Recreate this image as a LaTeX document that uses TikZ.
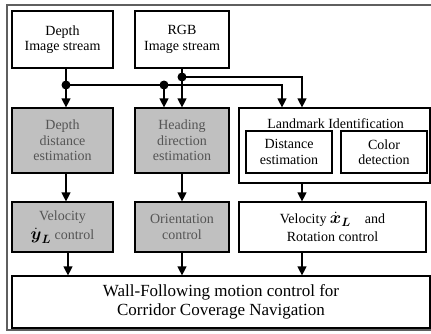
\documentclass[tikz,border=0pt]{standalone}
\usepackage{fontspec}
\setmainfont{Liberation Serif}
\usepackage{amsmath,amsbsy}
\usetikzlibrary{arrows.meta,positioning,calc}
\definecolor{estgray}{RGB}{192,192,192}
\definecolor{esttext}{RGB}{85,85,85}
\definecolor{framegray}{RGB}{95,95,95}
\newcommand{\bigvar}[1]{{\fontsize{18}{18}\selectfont$\dot{\boldsymbol{#1}}_{\boldsymbol{L}}$}}

\begin{document}
\begin{tikzpicture}[
x=1pt,y=-1pt,
>={Triangle[width=9pt,length=9pt]},
block/.style={
	draw,
	line width=1.2pt,
	fill=white,
	align=center,
	inner sep=0pt,
	font=\fontsize{14}{15.5}\selectfont
},
shaded/.style={
	block,
	fill=estgray,
	text=esttext
},
flow/.style={
	->,
	line width=1.2pt
},
junction/.style={
	fill=black,
	circle,
	inner sep=0pt,
	minimum size=9pt
}
]
\useasboundingbox (0,0) rectangle (431,333);
\draw[framegray,line width=1.2pt] (7,5) rectangle (440,330);

% sensor inputs
\node[block,minimum width=101pt,minimum height=57pt] (depth) at (62.5,39.5) {Depth\\Image stream};
\node[block,minimum width=94pt,minimum height=57pt] (rgb) at (182,39.5) {RGB\\Image stream};

% estimation
\node[shaded,minimum width=101pt,minimum height=65pt] (dde) at (62.5,140.5) {Depth\\distance\\estimation};
\node[shaded,minimum width=94pt,minimum height=65pt] (hde) at (182,140.5) {Heading\\direction\\estimation};
\node[block,minimum width=191pt,minimum height=75pt] (lmk) at (334.5,145.5) {};
\node[block,draw=none,fill=none] (lmktitle) at (335.5,124) {Landmark Identification};
\node[block,minimum width=86pt,minimum height=42pt] (dist) at (289,152) {Distance\\estimation};
\node[block,minimum width=86pt,minimum height=42pt] (color) at (384,152) {Color\\detection};

% control
\node[shaded,minimum width=101pt,minimum height=50pt] (vely) at (62.5,227) {Velocity\\[4pt]\textcolor{black}{\bigvar{y}} control};
\node[shaded,minimum width=94pt,minimum height=50pt] (orient) at (182,227) {Orientation\\control};
\node[block,minimum width=187pt,minimum height=50pt] (velx) at (332.5,227) {Velocity \bigvar{x}\quad and\\[2pt]Rotation control};
\node[block,minimum width=418pt,minimum height=52pt,font=\fontsize{17}{19}\selectfont] (wall) at (221,302) {Wall-Following motion control for\\Corridor Coverage Navigation};

% branching
\node[junction] (jd) at (66,85) {};
\node[junction] (jh) at (164,85) {};
\node[junction] (jr) at (182,77) {};
\coordinate (ld) at (282,85);
\coordinate (lr) at (302,77);

\draw[line width=1.2pt] (depth.south -| jd) -- (jd.center);
\draw[line width=1.2pt] (rgb.south) -- (jr.center);
\draw[flow] (jd.center) -- (dde.north -| jd);
\draw[flow] (jd.center) -- (ld) -- (lmk.north -| ld);
\draw[flow] (jh.center) -- (hde.north -| jh);
\draw[flow] (jr.center) -- (hde.north);
\draw[flow] (jr.center) -- (lr) -- (lmk.north -| lr);

\draw[flow] (dde.south -| jd) -- (vely.north -| jd);
\draw[flow] (hde.south) -- (orient.north);
\draw[flow] (lmk.south -| lr) -- (velx.north -| lr);

\foreach \n/\x in {vely/68,orient/182,velx/302}
\draw[flow] (\n.south -| \x,0) -- (wall.north -| \x,0);
\end{tikzpicture}
\end{document}
